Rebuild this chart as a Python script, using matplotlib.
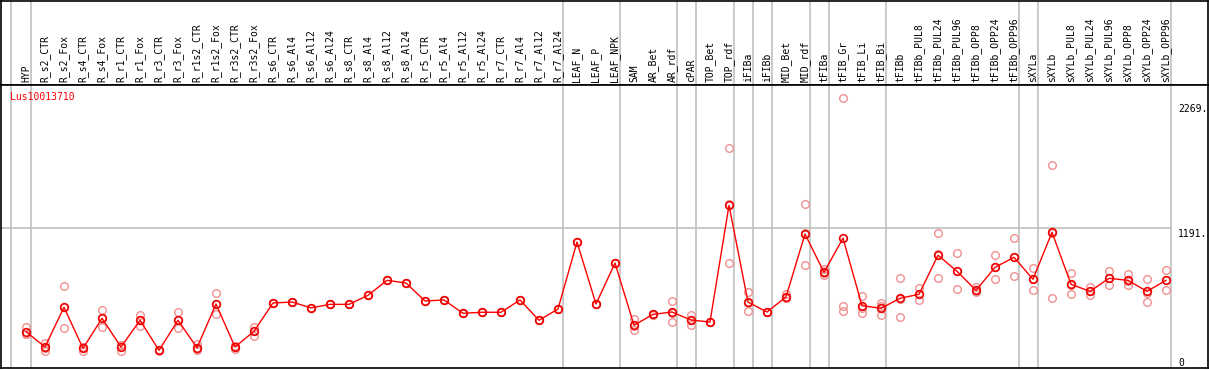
import matplotlib.pyplot as plt
import numpy as np

GENE = "Lus10013710"

samples = ["HYP", "R_s2_CTR", "R_s2_Fox", "R_s4_CTR", "R_s4_Fox", "R_r1_CTR", "R_r1_Fox",
           "R_r3_CTR", "R_r3_Fox", "R_r1s2_CTR", "R_r1s2_Fox", "R_r3s2_CTR", "R_r3s2_Fox",
           "R_s6_CTR", "R_s6_Al4", "R_s6_Al12", "R_s6_Al24", "R_s8_CTR", "R_s8_Al4", "R_s8_Al12",
           "R_s8_Al24", "R_r5_CTR", "R_r5_Al4", "R_r5_Al12", "R_r5_Al24", "R_r7_CTR", "R_r7_Al4",
           "R_r7_Al12", "R_r7_Al24", "LEAF_N", "LEAF_P", "LEAF_NPK", "SAM", "AR_Bet", "AR_rdf",
           "cPAR", "TOP_Bet", "TOP_rdf", "iFIBa", "iFIBb", "MID_Bet", "MID_rdf", "tFIBa",
           "tFIB_Gr", "tFIB_Li", "tFIB_Bi", "tFIBb", "tFIBb_PUL8", "tFIBb_PUL24", "tFIBb_PUL96",
           "tFIBb_OPP8", "tFIBb_OPP24", "tFIBb_OPP96", "sXYLa", "sXYLb", "sXYLb_PUL8",
           "sXYLb_PUL24", "sXYLb_PUL96", "sXYLb_OPP8", "sXYLb_OPP24", "sXYLb_OPP96"]

mean_expr = [301, 169, 511, 157, 416, 169, 399, 140, 399, 163, 539, 169, 304,
             548, 556, 506, 536, 536, 614, 743, 720, 565, 574, 459, 468, 468, 574, 399, 496,
             1073, 539, 892, 356, 450, 470, 401, 384, 1389, 556, 470, 600, 1142, 812,
             1106, 525, 502, 588, 623, 959, 821, 657, 855, 941, 752, 1157, 709, 648, 760,
             743, 648, 743]

rep1 = [343, 206, 692, 169, 485, 186, 442, 145, 468, 195, 631, 177, 344,
        548, 556, 506, 536, 536, 614, 743, 720, 565, 574, 459, 468, 468, 574, 399, 496,
        1073, 539, 892, 407, 455, 565, 444, 388, 1880, 643, 474, 623, 1400, 843,
        2311, 608, 545, 760, 674, 1148, 978, 683, 959, 1105, 847, 1734, 804, 683, 821,
        795, 752, 829]

rep2 = [278, 137, 330, 137, 341, 137, 352, 135, 330, 143, 450, 154, 264,
        548, 556, 506, 536, 536, 614, 743, 720, 565, 574, 459, 468, 468, 574, 399, 496,
        1073, 539, 892, 315, 444, 381, 358, 380, 890, 476, 466, 590, 875, 789,
        522, 464, 442, 425, 571, 760, 666, 640, 752, 778, 657, 588, 623, 614, 700,
        700, 554, 657]

rep3 = [282, 164, 511, 165, 422, 184, 403, 140, 399, 151, 536, 176, 304,
        548, 556, 506, 536, 536, 614, 743, 720, 565, 574, 459, 468, 468, 574, 399, 496,
        1073, 539, 892, 346, 451, 464, 401, 384, 1397, 549, 470, 587, 1151, 804,
        479, 503, 519, 579, 624, 969, 819, 648, 854, 940, 752, 1149, 700, 647, 759,
        734, 638, 743]

# last sample index of each tissue group
group_ends = [0, 28, 31, 34, 35, 37, 38, 39, 41, 42, 45, 52, 53, 60]
axis_labels = [(2269, "2269."), (1191, "1191."), (0, "0")]

RED = "#ff0000"
PINK = "#f09090"
GRID = "#c0c0c0"
FONT = "DejaVu Sans Mono"

W, H = 1209, 370
fig = plt.figure(figsize=(W / 100, H / 100), dpi=100)
head = fig.add_axes([1 / W, (H - 85) / H, 1207 / W, 84 / H])
ax = fig.add_axes([1 / W, 2 / H, 1207 / W, 283 / H])

x = np.arange(len(samples))
xlim = (-25 / 19, (1208 - 26) / 19)
for a in (head, ax):
    a.set_xlim(*xlim)
    a.set_xticks([])
    a.set_yticks([])
    for s in a.spines.values():
        s.set_color("black")
        s.set_linewidth(1.2)
    a.axvline(-0.8, color=GRID, lw=1.2, zorder=0)
    for g in group_ends:
        a.axvline(g + 0.24, color=GRID, lw=1.2, zorder=0)
head.set_ylim(0, 1)
ax.set_ylim(-12, 2425)

# horizontal grid line at the middle label
ax.plot([xlim[0], group_ends[-1] + 0.24], [1191, 1191], color=GRID, lw=1.2, zorder=0)

# sample names in the header
for i, name in enumerate(samples):
    head.text(i, 0.03, name, rotation=90, ha="center", va="bottom",
              fontsize=7, family=FONT, color="black")

# replicates
for reps in (rep1, rep2, rep3):
    ax.plot(x, reps, linestyle="none", marker="o", markersize=5.5,
            markerfacecolor="none", markeredgecolor=PINK, markeredgewidth=1.0, zorder=2)

# mean line
ax.plot(x, mean_expr, color=RED, lw=1.0, marker="o", markersize=5.5,
        markerfacecolor="none", markeredgecolor="#ee0000", markeredgewidth=1.2, zorder=3)

ax.text(8.7 / 1207, 1 - 12.3 / 283, GENE, transform=ax.transAxes, color=RED,
        fontsize=7, family=FONT, ha="left", va="center")

for val, txt in axis_labels:
    va = "bottom" if val == 0 else "top"
    off = -1 if val == 0 else -1
    ax.annotate(txt, (60.63, val), xytext=(0, off), textcoords="offset pixels",
                ha="left", va=va, fontsize=7, family=FONT, color="black")

fig.savefig("out.png", dpi=100)
